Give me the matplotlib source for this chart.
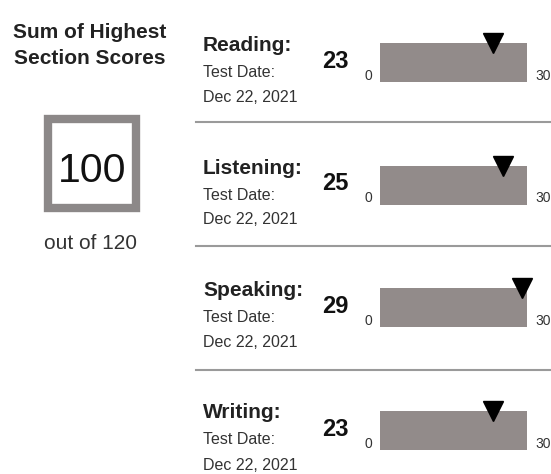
import matplotlib
matplotlib.use("Agg")
import matplotlib.pyplot as plt
from matplotlib.patches import Rectangle
from matplotlib.lines import Line2D

# ---------------------------------------------------------------------------
# Data
# ---------------------------------------------------------------------------
sections = ["Reading:", "Listening:", "Speaking:", "Writing:"]
scores = [23, 25, 29, 23]
test_dates = ["Dec 22, 2021", "Dec 22, 2021", "Dec 22, 2021", "Dec 22, 2021"]
max_score = 30
total_score = 100
total_max = 120

W, H = 551, 474
plt.rcParams["font.family"] = ["Liberation Sans", "DejaVu Sans"]

fig = plt.figure(figsize=(W / 100, H / 100), dpi=100)
fig.patch.set_facecolor("white")


def fx(x):
    return x / W


def fy(y):
    return 1 - y / H


def ptext(x, y, s, **kw):
    fig.text(fx(x), fy(y), s, **kw)


# left panel
ptext(90, 38, "Sum of Highest", ha="center", va="baseline", fontsize=15,
      fontweight="bold", color="#222222")
ptext(90, 64, "Section Scores", ha="center", va="baseline", fontsize=15,
      fontweight="bold", color="#222222")
fig.patches.append(Rectangle((fx(48), fy(208)), fx(88), 89 / H,
                             transform=fig.transFigure, facecolor="white",
                             edgecolor="#8c8888", linewidth=6))
ptext(92, 182, str(total_score), ha="center", va="baseline", fontsize=29.5,
      color="#111111")
ptext(91, 249, f"out of {total_max}", ha="center", va="baseline",
      fontsize=15, color="#333333")

# right panel
period = 122.5
for i, (name, score, date) in enumerate(zip(sections, scores, test_dates)):
    top = 43 + i * period
    ptext(203, top + 8, name, ha="left", va="baseline", fontsize=15,
          fontweight="bold", color="#222222")
    ptext(203, top + 34, "Test Date:", ha="left", va="baseline",
          fontsize=11.5, color="#333333")
    ptext(203, top + 59, date, ha="left", va="baseline", fontsize=11.5,
          color="#333333")
    ptext(335, top + 25, str(score), ha="center", va="baseline",
          fontsize=17, fontweight="bold", color="#111111")

    ax = fig.add_axes([fx(380), fy(top + 39), 147 / W, 39 / H])
    ax.barh(0, max_score, height=1, color="#928b8a", align="center")
    ax.plot(score, 0.5, marker="v", markersize=15, color="black",
            clip_on=False, zorder=5)
    ax.set_xlim(0, max_score)
    ax.set_ylim(-0.5, 0.5)
    ax.axis("off")

    ptext(368, top + 33, "0", ha="center", va="center", fontsize=10,
          color="#333333")
    ptext(535, top + 33, str(max_score), ha="left", va="center", fontsize=10,
          color="#333333")

# separators
for y in [122, 246, 370]:
    fig.lines.append(Line2D([fx(196), 1], [fy(y), fy(y)],
                            transform=fig.transFigure, color="#9a9a9a",
                            linewidth=1.5))

fig.savefig("out.png", dpi=100, facecolor="white")
